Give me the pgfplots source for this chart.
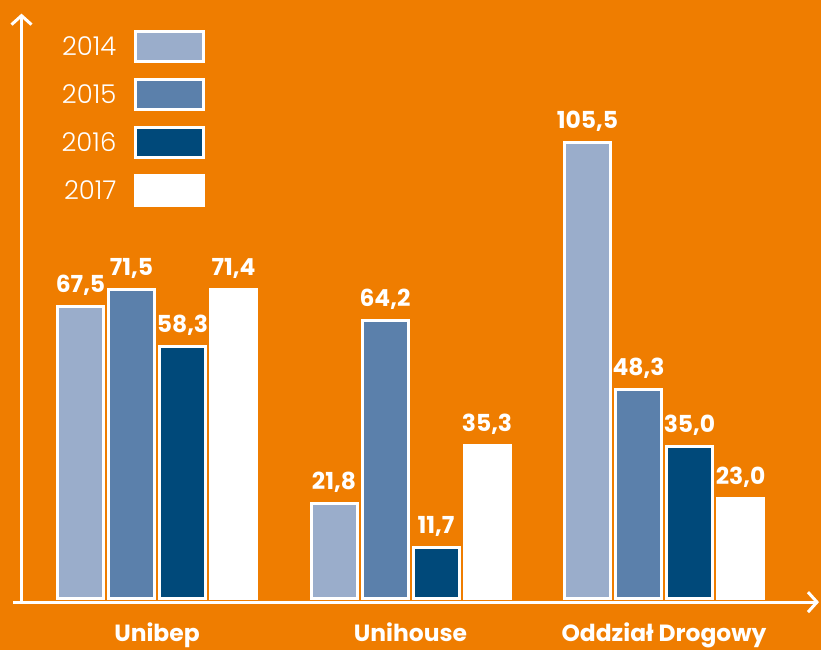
\documentclass[border=0pt]{standalone}
\usepackage{pgfplots}
\pgfplotsset{compat=1.18}
\usepackage{fontspec}
\setmainfont{Poppins}
\newfontfamily\labfont{Poppins}
\newfontfamily\legfont{Poppins Light}
\usetikzlibrary{arrows.meta}
\definecolor{bg}{HTML}{EF7D00}
\definecolor{cA}{HTML}{9AADCB}
\definecolor{cB}{HTML}{5B80AB}
\definecolor{cC}{HTML}{00497A}
\pgfplotsset{legimg/.style={legend image code/.code={\draw[##1] (0bp,-14.5bp) rectangle (68bp,15.5bp);}}}
\begin{document}
\begin{tikzpicture}
\begin{axis}[
  scale only axis, width=821bp, height=650bp,
  xmin=0, xmax=821, ymin=-12.04, ymax=138.43,
  axis background/.style={fill=bg},
  axis line style={draw=none},
  clip=false,
  ytick=\empty,
  xtick={157,410.5,664},
  xticklabels={Unibep,Unihouse,Oddział Drogowy},
  major tick length=0pt,
  xticklabel style={font=\labfont\bfseries\fontsize{23.5}{23.5}\selectfont, text=white, anchor=base, inner sep=0pt, yshift=8.5bp},
  ybar=5bp, bar width=46bp,
  nodes near coords={\pgfmathprintnumber[fixed,fixed zerofill,precision=1,use comma,assume math mode=true]{\pgfplotspointmeta}},
  every node near coord/.append style={font=\labfont\bfseries\fontsize{23.5}{23.5}\selectfont, text=white, anchor=base, inner sep=0pt, yshift=14bp},
  legend plot pos=right,
  legend cell align=right,
  legend style={at={(axis cs:205.5,131.6)}, anchor=north east, draw=none, fill=none,
    font=\legfont\fontsize{26}{26}\selectfont, text=white, row sep=15bp, column sep=16bp, inner sep=0pt},
]
\addplot[fill=cA, draw=white, line width=3bp, legimg] coordinates {(157,67.5) (410.5,21.8) (664,105.5)};
\addplot[fill=cB, draw=white, line width=3bp, legimg] coordinates {(157,71.5) (410.5,64.2) (664,48.3)};
\addplot[fill=cC, draw=white, line width=3bp, legimg] coordinates {(157,58.3) (410.5,11.7) (664,35.0)};
\addplot[fill=white, draw=white, line width=3bp, legimg] coordinates {(157,71.4) (410.5,35.3) (664,23.0)};
\legend{2014,2015,2016,2017}
\draw[white, line width=3bp, -{Straight Barb[length=9bp,width=20bp,line width=3bp]}] (axis cs:13,-0.93) -- (axis cs:819,-0.93);
\draw[white, line width=3bp, -{Straight Barb[length=9bp,width=20bp,line width=3bp]}] (axis cs:21.5,-1.3) -- (axis cs:21.5,135.3);
\end{axis}
\end{tikzpicture}
\end{document}
